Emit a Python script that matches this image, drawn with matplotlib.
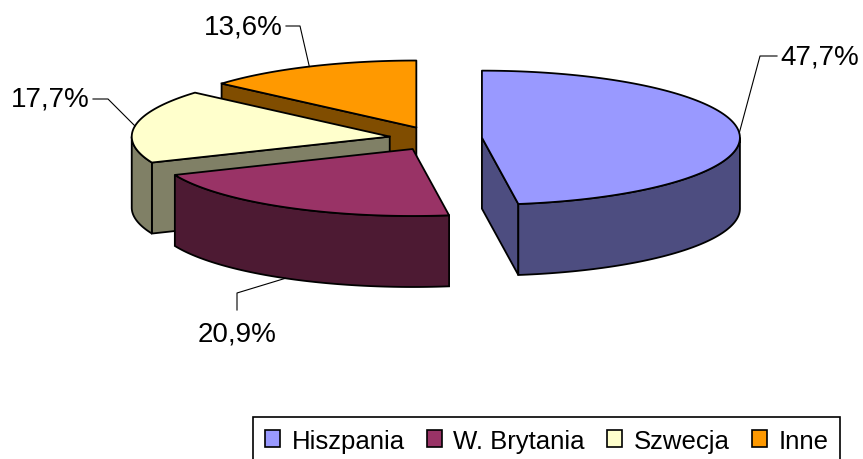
import numpy as np
import matplotlib.pyplot as plt
from matplotlib.patches import Polygon, Patch

labels = ['Hiszpania', 'W. Brytania', 'Szwecja', 'Inne']
values = [47.7, 20.9, 17.7, 13.6]
pct_labels = ['47,7%', '20,9%', '17,7%', '13,6%']
top_colors = ['#9999FF', '#993366', '#FFFFCC', '#FF9900']
side_colors = ['#4D4D80', '#4D1A33', '#808066', '#804D00']

# layout (pixels)
cx, cy = 435.6, 139.5
a, b = 258, 67
depth = 71
explode = 0.18
# text anchor (x, y, ha) and elbow point of leader line for each label
label_pos = [(780, 57, 'left', (760, 57)),
             (237, 335, 'center', (237, 294)),
             (90, 100, 'right', (108, 100)),
             (283, 27, 'right', (300, 27))]

plt.rcParams['font.family'] = ['Liberation Sans', 'DejaVu Sans']
fig = plt.figure(figsize=(8.63, 4.60), dpi=100)
ax = fig.add_axes([0, 0, 1, 1])
ax.set_xlim(0, 863)
ax.set_ylim(460, 0)
ax.axis('off')

def pt(x0, y0, th, z=0, r=1.0):
    t = np.radians(th)
    return x0 + a * r * np.cos(t), y0 - b * r * np.sin(t) + z

total = sum(values)
slices = []
start = 90.0
for i, v in enumerate(values):
    t_hi = start
    t_lo = start - 360 * v / total
    start = t_lo
    mid = (t_hi + t_lo) / 2
    x0 = cx + explode * a * np.cos(np.radians(mid))
    y0 = cy - explode * b * np.sin(np.radians(mid))
    slices.append((i, t_lo, t_hi, mid, x0, y0))

lw = 1.3
for i, t_lo, t_hi, mid, x0, y0 in sorted(slices, key=lambda s: s[5]):
    # radial cut faces
    for th, vis in [(t_hi, np.cos(np.radians(t_hi)) < -1e-6),
                    (t_lo, np.cos(np.radians(t_lo)) > 1e-6)]:
        if vis:
            p = pt(x0, y0, th)
            quad = [(x0, y0), p, (p[0], p[1] + depth), (x0, y0 + depth)]
            ax.add_patch(Polygon(quad, closed=True, fc=side_colors[i], ec='black', lw=lw))
    # outer wall (front half only)
    for k in range(-2, 2):
        lo = max(t_lo, -180 + 360 * k)
        hi = min(t_hi, 0 + 360 * k)
        if hi > lo:
            th = np.linspace(lo, hi, 80)
            top = [pt(x0, y0, t) for t in th]
            bot = [pt(x0, y0, t, depth) for t in th[::-1]]
            ax.add_patch(Polygon(top + bot, closed=True, fc=side_colors[i], ec='black', lw=lw))
    # top face
    th = np.linspace(t_lo, t_hi, 120)
    face = [(x0, y0)] + [pt(x0, y0, t) for t in th]
    ax.add_patch(Polygon(face, closed=True, fc=top_colors[i], ec='black', lw=lw, joinstyle='round'))

# labels with leader lines
for i, t_lo, t_hi, mid, x0, y0 in slices:
    z = depth if np.sin(np.radians(mid)) < 0 else 0
    ax_, ay_ = pt(x0, y0, mid, z)
    tx, ty, ha, (ex, ey) = label_pos[i]
    if ha == 'center':
        ax.plot([ax_, ex, ex], [ay_, ey, ty - 24], color='black', lw=0.8)
        ax.text(tx, ty, pct_labels[i], ha='center', va='center', fontsize=20)
    else:
        end = tx - 3 if ha == 'left' else tx + 3
        ax.plot([ax_, ex, end], [ay_, ey, ey], color='black', lw=0.8)
        ax.text(tx, ty, pct_labels[i], ha=ha, va='center', fontsize=20)

handles = [Patch(fc=c, ec='black', lw=1.2) for c in top_colors]
leg = ax.legend(handles, labels, loc='upper left', bbox_to_anchor=(253, 418),
                bbox_transform=ax.transData, ncol=4, fontsize=18.5,
                handlelength=0.6, handleheight=0.6, handletextpad=0.45,
                columnspacing=0.85, borderpad=0.45, borderaxespad=0,
                fancybox=False, framealpha=1)
leg.get_frame().set_edgecolor('black')
leg.get_frame().set_linewidth(1.2)

fig.savefig('out.png', dpi=100)
